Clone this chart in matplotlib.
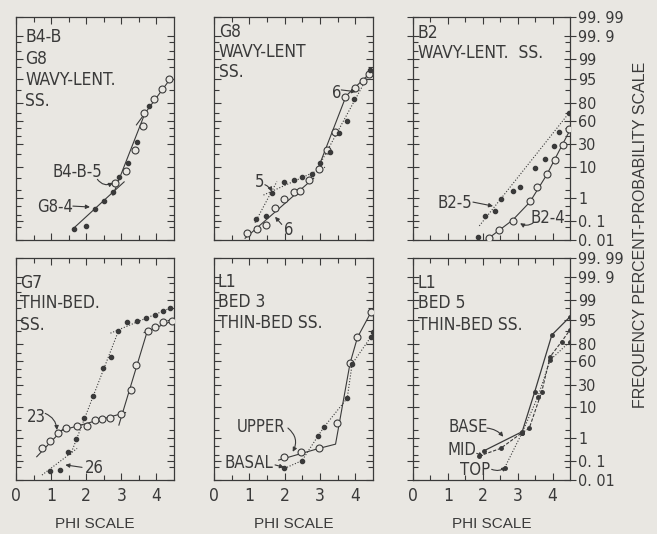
import numpy as np
import matplotlib
matplotlib.use("Agg")
import matplotlib.pyplot as plt
from matplotlib.ticker import FixedLocator, FixedFormatter, NullFormatter
from statistics import NormalDist

# ---- data: phi size (x) vs cumulative frequency percent (y) ----
# panel 1  B4-B / G8 wavy-lent. ss.
b4b5_phi = [2.82, 3.13, 3.39, 3.63, 3.65, 3.93, 4.16, 4.37]
b4b5_pct = [3.36, 7.93, 23.6, 53.6, 69.5, 83.4, 90.7, 94.9]
g84_phi = [1.65, 1.99, 2.25, 2.51, 2.77, 2.93, 3.20, 3.45, 3.80]
g84_pct = [0.040, 0.058, 0.37, 0.80, 1.66, 5.37, 12.3, 33.0, 77.3]
p1_fit_phi = [[1.61, 3.08], [2.76, 3.67], [3.43, 4.40]]
p1_fit_pct = [[0.039, 3.75], [1.32, 69.1], [54.8, 95.2]]

# panel 2  G8 wavy-lent ss.  (6 = open, 5 = dots)
g8s6_phi = [0.93, 1.21, 1.47, 1.73, 1.99, 2.25, 2.44, 2.70, 2.96, 3.20, 3.43, 3.72, 4.00, 4.22, 4.40]
g8s6_pct = [0.026, 0.039, 0.064, 0.39, 0.91, 1.74, 1.92, 4.27, 8.69, 23.6, 45.6, 85.1, 91.0, 94.3, 96.6]
g8s5_phi = [1.19, 1.47, 1.64, 1.99, 2.25, 2.50, 2.77, 3.01, 3.29, 3.53, 3.76, 3.97, 4.42]
g8s5_pct = [0.122, 0.175, 1.54, 3.67, 4.18, 5.37, 6.4, 12.3, 22.1, 43.6, 60.3, 83.6, 97.4]
p2_solid_phi = [[0.88, 2.82], [2.93, 3.74], [3.74, 4.46]]
p2_solid_pct = [[0.0126, 4.85], [8.38, 86.2], [86.2, 97.1]]
p2_dot_phi = [[1.16, 1.78], [1.40, 3.18], [2.91, 4.47]]
p2_dot_pct = [[0.084, 3.84], [1.32, 10.2], [8.38, 97.7]]

# panel 3  B2 wavy-lent. ss.
b25_phi = [1.86, 2.05, 2.34, 2.53, 2.86, 3.08, 3.49, 3.78, 4.05, 4.19, 4.48]
b25_pct = [0.014, 0.175, 0.30, 0.94, 1.92, 2.50, 9.18, 15.2, 28.4, 45.2, 69.5]
b24_phi = [2.19, 2.46, 2.86, 3.35, 3.56, 3.83, 4.08, 4.31, 4.47]
b24_pct = [0.0126, 0.036, 0.107, 0.80, 2.50, 6.43, 14.7, 28.8, 49.6]
p3_dot_phi = [1.90, 4.50]
p3_dot_pct = [0.058, 71.2]
p3_solid_phi = [2.10, 2.86, 3.35, 3.83, 4.50]
p3_solid_pct = [0.0100, 0.114, 0.71, 6.06, 48.0]

# panel 4  G7 thin-bed. ss.  (23 = open, 26 = dots)
g723_phi = [0.74, 0.96, 1.21, 1.43, 1.74, 2.01, 2.24, 2.46, 2.67, 2.98, 3.27, 3.43, 3.75, 3.96, 4.18, 4.44]
g723_pct = [0.39, 0.82, 1.66, 2.33, 2.81, 2.87, 4.36, 4.55, 4.95, 6.43, 24.2, 54.8, 90.0, 91.9, 94.1, 94.7]
g726_phi = [0.96, 1.26, 1.47, 1.72, 1.95, 2.19, 2.48, 2.71, 2.90, 3.17, 3.46, 3.70, 3.96, 4.18, 4.39]
g726_pct = [0.032, 0.036, 0.26, 0.91, 4.95, 18.4, 51.6, 65.5, 89.8, 94.3, 94.7, 95.5, 96.4, 97.3, 97.9]
p4_solid_phi = [[0.59, 1.36], [1.17, 3.12], [2.93, 3.75], [3.65, 4.46]]
p4_solid_pct = [[0.164, 2.33], [1.79, 7.21], [3.01, 90.5], [88.9, 94.7]]
p4_dot_phi = [[0.74, 1.74], [1.55, 2.93], [2.69, 4.46]]
p4_dot_pct = [[0.019, 0.39], [0.20, 90.5], [88.5, 98.1]]

# panel 5  L1 bed 3 thin-bed ss.
upper_phi = [1.99, 2.46, 2.97, 3.49, 3.85, 4.06, 4.44]
upper_pct = [0.164, 0.28, 0.39, 3.59, 57.5, 85.5, 97.1]
upper_line_phi = [1.83, 2.97, 3.44, 3.85, 4.06, 4.44]
upper_line_pct = [0.114, 0.39, 0.59, 57.5, 85.5, 97.1]
basal_phi = [1.99, 2.49, 2.94, 3.11, 3.77, 3.91, 4.43, 4.49]
basal_pct = [0.043, 0.107, 1.22, 2.56, 16.4, 56.8, 85.5, 89.4]

# panel 6  L1 bed 5 thin-bed ss.
base_phi = [2.04, 3.13, 3.49, 3.98, 4.50]
base_pct = [0.31, 1.79, 22.4, 87.3, 96.0]
mid_phi = [1.89, 2.51, 3.13, 3.33, 3.69, 3.93, 4.26, 4.50]
mid_pct = [0.175, 0.39, 1.66, 2.33, 22.4, 65.9, 82.1, 90.5]
top_phi = [2.63, 3.13, 3.58, 3.93, 4.50]
top_pct = [0.048, 1.66, 17.6, 61.8, 82.1]

prob_major = [0.01, 0.1, 1, 10, 30, 60, 80, 95, 99, 99.9, 99.99]
prob_labels = ["0. 01", "0. 1", "1", "10", "30", "60", "80", "95", "99", "99. 9", "99. 99"]
prob_minor = [0.05, 0.2, 0.5, 2, 5, 20, 40, 50, 70, 90, 98, 99.5, 99.8]

BG = "#e9e7e2"
INK = "#3a3a3a"
NARROW = ["DejaVu Sans"]
DOT = (0, (1, 1.6))

_nd = NormalDist()
_ppf = np.vectorize(_nd.inv_cdf, otypes=[float])
_cdf = np.vectorize(_nd.cdf, otypes=[float])


def fwd(p):
    p = np.clip(np.asarray(p, dtype=float) / 100.0, 1e-9, 1 - 1e-9)
    return _ppf(p)


def inv(z):
    return _cdf(np.asarray(z, dtype=float)) * 100.0


fig = plt.figure(figsize=(6.57, 5.34), dpi=100, facecolor=BG)
W, H = 657.0, 534.0
cols = [(16, 158), (214, 159), (413, 157)]
rows = [(17, 223), (258, 222)]


def make_ax(r, c):
    left, w = cols[c]
    top, h = rows[r]
    ax = fig.add_axes([left / W, 1 - (top + h) / H, w / W, h / H])
    ax.set_facecolor(BG)
    ax.set_yscale("function", functions=(fwd, inv))
    ax.set_xlim(0, 4.5)
    ax.set_ylim(0.01, 99.99)
    ax.xaxis.set_major_locator(FixedLocator([0, 1, 2, 3, 4]))
    ax.xaxis.set_minor_locator(FixedLocator([0.5, 1.5, 2.5, 3.5]))
    ax.yaxis.set_major_locator(FixedLocator(prob_major))
    ax.yaxis.set_minor_locator(FixedLocator(prob_minor))
    ax.yaxis.set_minor_formatter(NullFormatter())
    ax.xaxis.set_minor_formatter(NullFormatter())
    for s in ax.spines.values():
        s.set_color(INK)
        s.set_linewidth(0.9)
    ax.tick_params(which="both", direction="in", top=True, right=True,
                   color=INK, width=0.8)
    ax.tick_params(which="major", length=5)
    ax.tick_params(which="minor", length=3.5)
    ax.tick_params(axis="y", labelleft=False, labelright=False)
    if r == 1:
        ax.tick_params(axis="x", labelsize=12.5, labelcolor=INK, pad=5)
        for lab in ax.get_xticklabels():
            lab.set_fontstretch("condensed")
        ax.set_xlabel("PHI SCALE", fontsize=11, color=INK, labelpad=9,
                      family=["Liberation Sans", "DejaVu Sans"])
    else:
        ax.tick_params(axis="x", labelbottom=False)
    if c == 2:
        ax.yaxis.set_major_formatter(FixedFormatter(prob_labels))
        ax.tick_params(axis="y", which="major", labelright=True, direction="inout",
                       length=8, labelsize=11.5, labelcolor=INK, pad=2)
        for lab in ax.get_yticklabels():
            lab.set_fontstretch("condensed")
    return ax


def panel_text(ax, lines, x, ys):
    for t, y in zip(lines, ys):
        ax.text(x, y, t, transform=ax.transAxes, fontsize=12.5, color=INK,
                family=NARROW, stretch="condensed", va="center", ha="left")


def label_arrow(ax, text, txy, start, end, rad=0.0):
    ax.text(txy[0], txy[1], text, transform=ax.transAxes, fontsize=12, color=INK,
            family=NARROW, stretch="condensed", va="center", ha="left")
    ax.annotate("", xy=end, xycoords="axes fraction", xytext=start,
                textcoords="axes fraction",
                arrowprops=dict(arrowstyle="-|>", color=INK, lw=0.8,
                                mutation_scale=6, shrinkA=0, shrinkB=0,
                                connectionstyle="arc3,rad=%s" % rad))


def open_pts(ax, x, y):
    ax.plot(x, y, "o", ms=5, mfc=BG, mec=INK, mew=0.8, ls="none", zorder=3)


def dot_pts(ax, x, y, ms=3):
    ax.plot(x, y, "o", ms=ms, color=INK, ls="none", zorder=3)


def segs(ax, xs, ys, ls):
    for sx, sy in zip(xs, ys):
        ax.plot(sx, sy, color=INK, lw=0.8, ls=ls)


# panel 1
ax = make_ax(0, 0)
segs(ax, p1_fit_phi, p1_fit_pct, "-")
open_pts(ax, b4b5_phi, b4b5_pct)
dot_pts(ax, g84_phi, g84_pct)
panel_text(ax, ["B4-B", "G8", "WAVY-LENT.", "SS."], 0.057, [0.91, 0.812, 0.717, 0.623])
label_arrow(ax, "B4-B-5", (0.234, 0.305), (0.515, 0.272), (0.614, 0.256), rad=0.4)
label_arrow(ax, "G8-4", (0.133, 0.148), (0.36, 0.152), (0.468, 0.148))

# panel 2
ax = make_ax(0, 1)
segs(ax, p2_solid_phi, p2_solid_pct, "-")
segs(ax, p2_dot_phi, p2_dot_pct, DOT)
open_pts(ax, g8s6_phi, g8s6_pct)
dot_pts(ax, g8s5_phi, g8s5_pct)
panel_text(ax, ["G8", "WAVY-LENT", "SS."], 0.03, [0.933, 0.843, 0.753])
label_arrow(ax, "5", (0.255, 0.26), (0.32, 0.248), (0.363, 0.217), rad=-0.2)
label_arrow(ax, "6", (0.44, 0.045), (0.426, 0.07), (0.384, 0.104))
label_arrow(ax, "6", (0.74, 0.659), (0.80, 0.673), (0.893, 0.665))

# panel 3
ax = make_ax(0, 2)
ax.plot(p3_dot_phi, p3_dot_pct, color=INK, lw=0.8, ls=DOT)
ax.plot(p3_solid_phi, p3_solid_pct, color=INK, lw=0.8)
dot_pts(ax, b25_phi, b25_pct)
open_pts(ax, b24_phi, b24_pct)
panel_text(ax, ["B2", "WAVY-LENT.  SS."], 0.03, [0.93, 0.84])
label_arrow(ax, "B2-5", (0.159, 0.166), (0.382, 0.17), (0.51, 0.152))
label_arrow(ax, "B2-4", (0.75, 0.099), (0.764, 0.076), (0.682, 0.075), rad=-0.3)

# panel 4
ax = make_ax(1, 0)
segs(ax, p4_solid_phi, p4_solid_pct, "-")
segs(ax, p4_dot_phi, p4_dot_pct, DOT)
open_pts(ax, g723_phi, g723_pct)
dot_pts(ax, g726_phi, g726_pct)
panel_text(ax, ["G7", "THIN-BED.", "SS."], 0.025, [0.887, 0.797, 0.698])
label_arrow(ax, "23", (0.07, 0.285), (0.185, 0.30), (0.259, 0.225), rad=-0.3)
label_arrow(ax, "26", (0.433, 0.054), (0.418, 0.057), (0.312, 0.068))

# panel 5
ax = make_ax(1, 1)
ax.plot(upper_line_phi, upper_line_pct, color=INK, lw=0.8)
ax.plot(basal_phi, basal_pct, color=INK, lw=0.8, ls=DOT)
open_pts(ax, upper_phi, upper_pct)
dot_pts(ax, basal_phi, basal_pct)
panel_text(ax, ["L1", "BED 3", "THIN-BED SS."], 0.025, [0.89, 0.80, 0.705])
label_arrow(ax, "UPPER", (0.145, 0.239), (0.465, 0.234), (0.495, 0.127), rad=-0.4)
label_arrow(ax, "BASAL", (0.069, 0.078), (0.384, 0.068), (0.44, 0.057))

# panel 6
ax = make_ax(1, 2)
ax.plot(base_phi, base_pct, color=INK, lw=0.9)
ax.plot(mid_phi, mid_pct, color=INK, lw=0.8, ls=(0, (3, 1.5)))
ax.plot(top_phi, top_pct, color=INK, lw=0.8, ls=DOT)
for xs, ys in [(base_phi, base_pct), (mid_phi, mid_pct), (top_phi, top_pct)]:
    dot_pts(ax, xs, ys, ms=2.5)
panel_text(ax, ["L1", "BED 5", "THIN-BED SS."], 0.03, [0.887, 0.797, 0.698])
label_arrow(ax, "BASE", (0.223, 0.24), (0.471, 0.234), (0.575, 0.195), rad=-0.2)
label_arrow(ax, "MID", (0.217, 0.135), (0.406, 0.12), (0.448, 0.108))
label_arrow(ax, "TOP", (0.30, 0.045), (0.501, 0.048), (0.592, 0.06), rad=0.3)

fig.text(640 / W, 1 - 235 / H, "FREQUENCY PERCENT-PROBABILITY SCALE", rotation=90,
         fontsize=11.5, color=INK, ha="center", va="center",
         family=["Liberation Sans", "DejaVu Sans"])

fig.savefig("out.png", dpi=100, facecolor=BG)
